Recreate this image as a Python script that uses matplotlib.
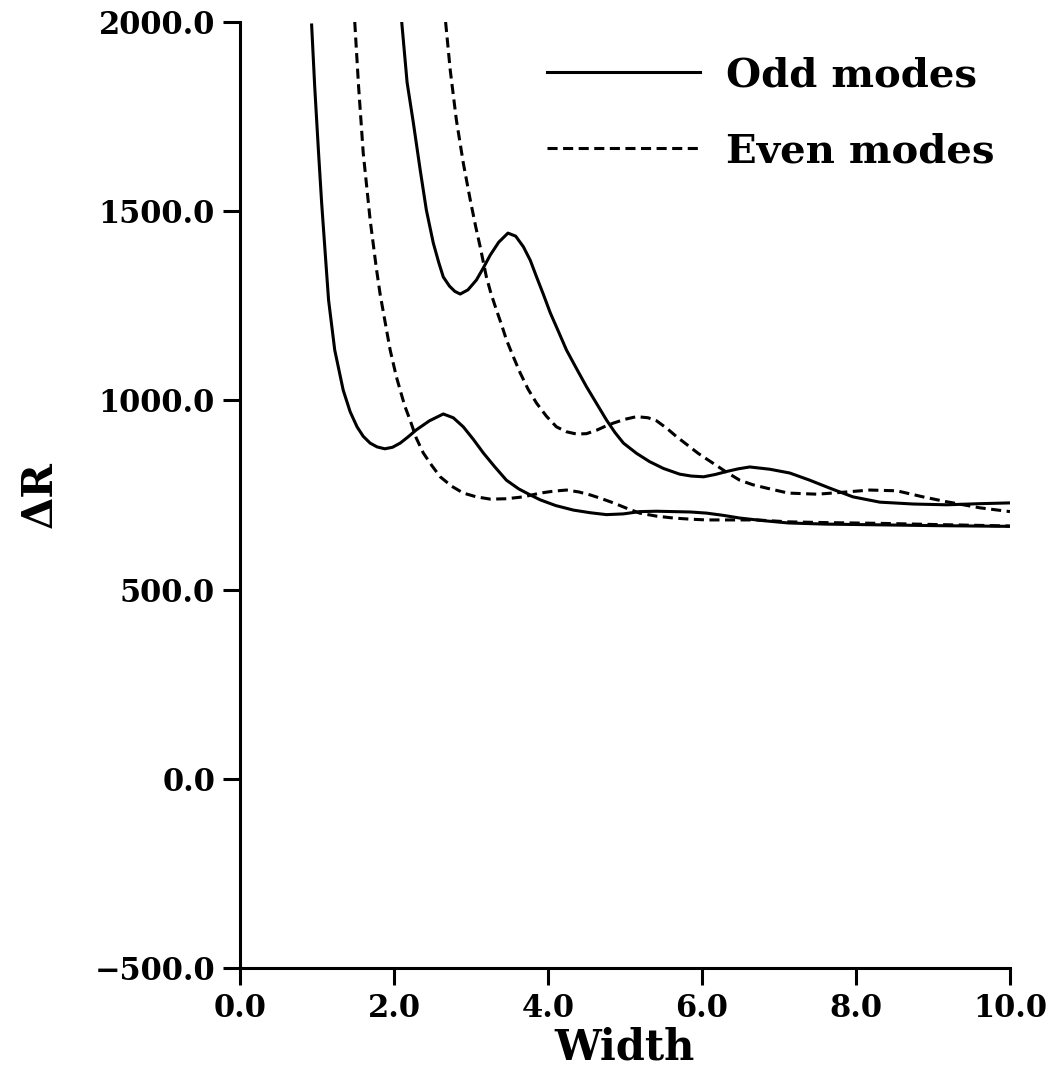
import matplotlib.pyplot as plt

# values (Width, Delta R)
odd1_w = [0.93, 0.97, 1.02, 1.06, 1.12, 1.15, 1.23, 1.34, 1.43, 1.52, 1.60, 1.69, 1.78, 1.88,
          1.98, 2.08, 2.18, 2.29, 2.46, 2.64, 2.77, 2.90, 3.03, 3.16, 3.31, 3.46, 3.62, 3.77,
          3.90, 4.10, 4.33, 4.55, 4.76, 4.98, 5.19, 5.41, 5.63, 5.85, 6.06, 6.28, 6.49, 6.80,
          7.12, 7.60, 8.31, 9.00, 10.0]
odd1_r = [1992, 1829, 1654, 1522, 1350, 1265, 1133, 1027, 970, 930, 905, 887, 877, 872,
          876, 887, 903, 922, 946, 964, 954, 930, 897, 861, 824, 789, 766, 750,
          737, 722, 710, 703, 698, 700, 706, 707, 706, 705, 702, 696, 689, 682,
          676, 673, 671, 669, 667]

odd2_w = [2.10, 2.17, 2.25, 2.34, 2.42, 2.51, 2.58, 2.64, 2.72, 2.79, 2.86, 2.96, 3.07, 3.16,
          3.25, 3.36, 3.48, 3.58, 3.68, 3.77, 3.85, 3.94, 4.03, 4.14, 4.24, 4.37, 4.50, 4.63,
          4.76, 4.87, 4.98, 5.15, 5.32, 5.50, 5.71, 5.86, 6.02, 6.17, 6.32, 6.47, 6.62, 6.88,
          7.14, 7.40, 7.66, 7.96, 8.31, 8.75, 9.18, 9.61, 10.0]
odd2_r = [2000, 1840, 1735, 1609, 1503, 1416, 1365, 1326, 1302, 1288, 1281, 1292, 1318, 1350,
          1384, 1418, 1442, 1434, 1406, 1370, 1327, 1280, 1231, 1180, 1133, 1084, 1036, 992,
          948, 915, 887, 860, 838, 820, 805, 800, 798, 804, 812, 819, 824, 818,
          808, 789, 768, 745, 731, 726, 724, 727, 729]

even1_w = [1.49, 1.54, 1.60, 1.69, 1.77, 1.82, 1.91, 1.95, 2.03, 2.08, 2.14, 2.21, 2.29, 2.38,
           2.49, 2.60, 2.75, 2.90, 3.07, 3.25, 3.46, 3.68, 3.90, 4.07, 4.24, 4.40, 4.55, 4.70,
           4.85, 5.02, 5.19, 5.41, 5.63, 5.85, 6.06, 6.40, 6.71, 7.12, 7.60, 8.31, 9.00, 10.0]
even1_r = [2000, 1829, 1654, 1477, 1350, 1280, 1178, 1133, 1063, 1027, 985, 947, 900, 861,
           828, 798, 773, 755, 745, 739, 740, 745, 755, 760, 763, 758, 750, 740,
           729, 715, 702, 694, 689, 686, 684, 684, 684, 679, 677, 675, 672, 668]

even2_w = [2.67, 2.73, 2.81, 2.90, 2.99, 3.06, 3.12, 3.20, 3.26, 3.33, 3.40, 3.46, 3.55, 3.64,
           3.74, 3.85, 3.98, 4.11, 4.24, 4.37, 4.50, 4.63, 4.76, 4.85, 5.00, 5.15, 5.30, 5.41,
           5.55, 5.67, 5.76, 5.95, 6.15, 6.32, 6.49, 6.66, 6.84, 7.12, 7.50, 7.88, 8.18, 8.53,
           8.87, 9.18, 9.61, 10.0]
even2_r = [2000, 1873, 1741, 1627, 1530, 1460, 1405, 1326, 1282, 1239, 1198, 1160, 1115, 1072,
           1030, 993, 958, 930, 917, 911, 912, 921, 933, 940, 950, 957, 954, 946,
           925, 904, 890, 860, 833, 810, 789, 777, 768, 755, 752, 758, 763, 761,
           745, 732, 716, 706]

xticks = [0, 2, 4, 6, 8, 10]
yticks = [-500, 0, 500, 1000, 1500, 2000]

plt.rcParams['font.family'] = 'DejaVu Serif'
plt.rcParams['font.weight'] = 'bold'

fig = plt.figure(figsize=(10.56, 10.82), dpi=100)
ax = fig.add_axes([0.2273, 0.1054, 0.7291, 0.8743])

lw = 2.2
dash = (3.3, 1.8)
ax.plot(odd1_w, odd1_r, color='black', lw=lw, label='Odd modes')
ax.plot(odd2_w, odd2_r, color='black', lw=lw)
ax.plot(even1_w, even1_r, color='black', lw=lw, dashes=dash, label='Even modes')
ax.plot(even2_w, even2_r, color='black', lw=lw, dashes=dash)

ax.set_xlim(0, 10)
ax.set_ylim(-500, 2000)
ax.set_xticks(xticks)
ax.set_xticklabels([f'{v:.1f}' for v in xticks])
ax.set_yticks(yticks)
ax.set_yticklabels([f'{v:.1f}'.replace('-', '\u2212') for v in yticks])

for s in ['top', 'right']:
    ax.spines[s].set_visible(False)
for s in ['left', 'bottom']:
    ax.spines[s].set_linewidth(2.2)
ax.tick_params(direction='out', length=12, width=2.2, labelsize=22, pad=6)

ax.set_xlabel('Width', fontsize=30, fontweight='bold', labelpad=2)
ax.set_ylabel('\u0394R', fontsize=30, fontweight='bold', labelpad=24)

ax.legend(loc='upper left', bbox_to_anchor=(0.372, 0.985), frameon=False, fontsize=29,
          handlelength=3.8, handletextpad=0.65, labelspacing=0.95, borderpad=0)

fig.savefig('out.png', dpi=100)
